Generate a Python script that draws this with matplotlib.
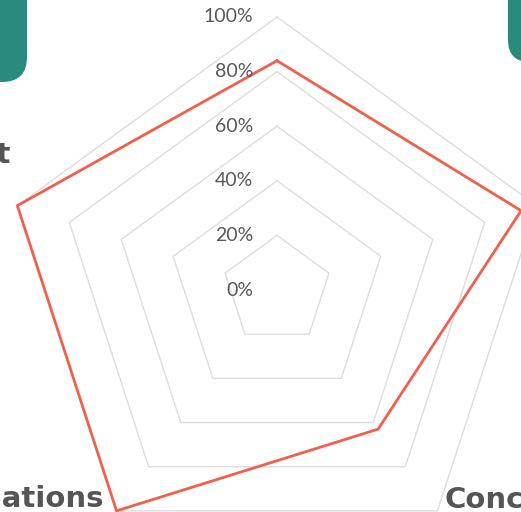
import numpy as np
import matplotlib.pyplot as plt
from matplotlib.patches import FancyBboxPatch

# data (clockwise from the top axis)
categories = ["Skills", "Practice", "Concepts", "Applications", "Content"]
values = [0.84, 0.94, 0.63, 1.00, 1.00]
ring_levels = [0.2, 0.4, 0.6, 0.8, 1.0]
tick_labels = ["0%", "20%", "40%", "60%", "80%", "100%"]

W, H = 521, 512
fig = plt.figure(figsize=(W / 100, H / 100), dpi=100)

# background layer in pixel coordinates for the decorative teal boxes
bg = fig.add_axes([0, 0, 1, 1])
bg.set_xlim(0, W)
bg.set_ylim(H, 0)
bg.axis("off")
teal = "#2b8a7e"
bg.add_patch(FancyBboxPatch((-60, -60), 87, 142, boxstyle="round,pad=0,rounding_size=25",
                            fc=teal, ec="none"))
bg.add_patch(FancyBboxPatch((508, -60), 90, 122, boxstyle="round,pad=0,rounding_size=22",
                            fc=teal, ec="none"))

# radar axes: centre at (277, 290) px, radius 273 px
cx, cy, R = 277, 290, 273
ax = fig.add_axes([(cx - R) / W, (H - cy - R) / H, 2 * R / W, 2 * R / H],
                  projection="polar")
ax.patch.set_alpha(0)
ax.set_theta_offset(np.pi / 2)
ax.set_theta_direction(-1)
ax.set_ylim(0, 1)
ax.grid(False)
ax.spines["polar"].set_visible(False)
ax.set_xticks([])
ax.set_yticks([])

n = len(categories)
angles = np.linspace(0, 2 * np.pi, n, endpoint=False)
closed = np.append(angles, angles[0])

for lv in ring_levels:
    ax.plot(closed, [lv] * (n + 1), color="#dddddd", lw=1.0, clip_on=False, zorder=1)

ax.plot(closed, values + values[:1], color="#f2604c", lw=2.0, clip_on=False, zorder=3)

# percentage labels along the top axis
for lv, lab in zip([0.0] + ring_levels, tick_labels):
    ax.annotate(lab, xy=(0, lv), xytext=(-17, 0), textcoords="offset points",
                ha="right", va="center", fontsize=14, color="#595959",
                family="Lato", annotation_clip=False)

# category labels (only partly inside the crop)
cat_style = dict(fontsize=21, fontweight="bold", color="#555555", family="DejaVu Sans",
                 textcoords="offset points", annotation_clip=False)
ax.annotate(categories[0], xy=(angles[0], 1.0), xytext=(0, 14), ha="center", va="bottom", **cat_style)
ax.annotate(categories[1], xy=(angles[1], 1.0), xytext=(8, 0), ha="left", va="center", **cat_style)
ax.annotate(categories[2], xy=(angles[2], 1.0), xytext=(5, 2), ha="left", va="baseline", **cat_style)
ax.annotate(categories[3], xy=(angles[3], 1.0), xytext=(-9, 3), ha="right", va="baseline", **cat_style)
ax.annotate(categories[4], xy=(angles[4], 1.0), xytext=(-5, 31), ha="right", va="baseline", **cat_style)

fig.savefig("out.png", dpi=100)
